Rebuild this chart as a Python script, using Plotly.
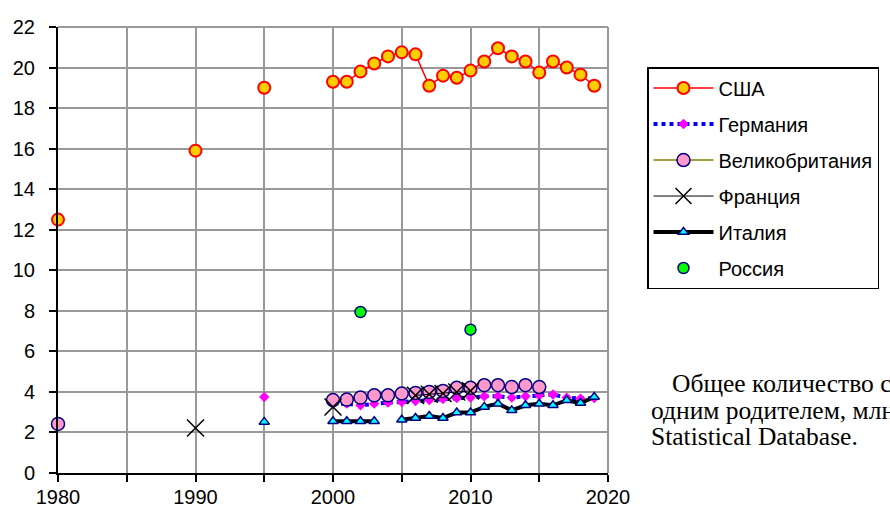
import plotly.graph_objects as go

# ---------------- data ----------------
usa_years = [1980, 1990, 1995, 2000, 2001, 2002, 2003, 2004, 2005, 2006, 2007, 2008, 2009,
             2010, 2011, 2012, 2013, 2014, 2015, 2016, 2017, 2018, 2019]
usa_vals = [12.5, 15.9, 19.0, 19.3, 19.3, 19.8, 20.2, 20.55, 20.75, 20.65, 19.1, 19.6, 19.5,
            19.85, 20.3, 20.95, 20.55, 20.3, 19.75, 20.3, 20.0, 19.65, 19.1]

ger_years = [1995, 2000, 2001, 2002, 2003, 2004, 2005, 2006, 2007, 2008, 2009, 2010,
             2011, 2012, 2013, 2014, 2015, 2016, 2017, 2018, 2019]
ger_vals = [3.75, 3.4, 3.42, 3.34, 3.42, 3.47, 3.5, 3.55, 3.6, 3.65, 3.7, 3.72,
            3.78, 3.78, 3.72, 3.78, 3.83, 3.87, 3.72, 3.67, 3.7]

uk_years = [1980, 2000, 2001, 2002, 2003, 2004, 2005, 2006, 2007, 2008, 2009, 2010,
            2011, 2012, 2013, 2014, 2015]
uk_vals = [2.42, 3.6, 3.62, 3.72, 3.83, 3.83, 3.92, 3.95, 4.0, 4.05, 4.2, 4.2,
           4.33, 4.33, 4.24, 4.33, 4.24]

fra_years = [1990, 2000, 2006, 2007, 2008, 2009, 2010]
fra_vals = [2.22, 3.26, 3.83, 3.88, 3.92, 4.0, 4.05]

ita_years = [1995, 2000, 2001, 2002, 2003, 2005, 2006, 2007, 2008, 2009, 2010,
             2011, 2012, 2013, 2014, 2015, 2016, 2017, 2018, 2019]
ita_vals = [2.52, 2.55, 2.55, 2.55, 2.55, 2.63, 2.71, 2.81, 2.71, 2.98, 2.98,
            3.26, 3.42, 3.09, 3.34, 3.42, 3.34, 3.59, 3.45, 3.75]

rus_years = [2002, 2010]
rus_vals = [7.94, 7.07]

x_ticks = [1980, 1990, 2000, 2010, 2020]
y_ticks = [0, 2, 4, 6, 8, 10, 12, 14, 16, 18, 20, 22]

note_lines = ["Общее количество семей",
              "одним родителем, млн.",
              "Statistical Database."]


def with_gaps(years, vals):
    """Insert None between non-consecutive years so lines break."""
    xs, ys = [], []
    for i, (yr, v) in enumerate(zip(years, vals)):
        if i > 0 and yr - years[i - 1] > 1:
            xs.append(years[i - 1] + 1)
            ys.append(None)
        xs.append(yr)
        ys.append(v)
    return xs, ys


fig = go.Figure()

series = [
    ("США", usa_years, usa_vals,
     dict(color="#FF0000", width=1.5),
     dict(symbol="circle", size=12, color="#FFCC00", line=dict(color="#FF0000", width=2))),
    ("Германия", ger_years, ger_vals,
     dict(color="#0000FF", width=4, dash="dot"),
     dict(symbol="diamond", size=8, color="#FF00FF", line=dict(width=0))),
    ("Великобритания", uk_years, uk_vals,
     dict(color="#808000", width=1.5),
     dict(symbol="circle", size=13, color="#FF99CC", line=dict(color="#000080", width=1.5))),
    ("Франция", fra_years, fra_vals,
     dict(color="#000000", width=1),
     dict(symbol="x-thin", size=17, color="#000000", line=dict(color="#000000", width=1.5))),
    ("Италия", ita_years, ita_vals,
     dict(color="#000000", width=4),
     dict(symbol="triangle-up", size=9, color="#00FFFF", line=dict(color="#000080", width=1.5))),
]

for name, yrs, vals, ln, mk in series:
    xs, ys = with_gaps(yrs, vals)
    fig.add_trace(go.Scatter(x=xs, y=ys, name=name, mode="lines+markers",
                             line=ln, marker=mk, connectgaps=False, cliponaxis=False,
                             legendgroup=name))

fig.add_trace(go.Scatter(x=rus_years, y=rus_vals, name="Россия", mode="markers",
                         marker=dict(symbol="circle", size=11, color="#00FF00",
                                     line=dict(color="#000080", width=1.5)),
                         cliponaxis=False, legendgroup="Россия"))

axis_font = dict(family="Liberation Sans, Arial", size=20, color="#000000")

fig.update_xaxes(range=[1980, 2020], tickvals=x_ticks, ticks="outside", ticklen=7,
                 tickcolor="#000000", tickwidth=1.5, automargin=False,
                 ticklabelstandoff=-2,
                 showline=True, linecolor="#000000", linewidth=2,
                 showgrid=True, gridcolor="#999999", gridwidth=1.5,
                 minor=dict(dtick=5, tick0=1980, showgrid=True, gridcolor="#999999",
                            gridwidth=1.5, ticks="outside", ticklen=7, tickcolor="#000000"),
                 tickfont=axis_font, zeroline=False, mirror=False)
fig.update_yaxes(range=[0, 22], tickvals=y_ticks, ticks="outside", ticklen=7,
                 tickcolor="#000000", tickwidth=1.5, automargin=False,
                 ticklabelstandoff=10,
                 showline=True, linecolor="#000000", linewidth=2,
                 showgrid=True, gridcolor="#999999", gridwidth=1.5,
                 tickfont=axis_font, zeroline=False)

# right and top border (gray like gridlines)
fig.add_shape(type="line", xref="paper", yref="paper", x0=1, x1=1, y0=0, y1=1,
              line=dict(color="#999999", width=2))
fig.add_shape(type="line", xref="paper", yref="paper", x0=0, x1=1, y0=1, y1=1,
              line=dict(color="#999999", width=2))

note_y = [383, 410, 436]
note_x = [671, 650, 650]
for txt, px, py in zip(note_lines, note_x, note_y):
    fig.add_annotation(text=txt, xref="paper", yref="paper",
                       x=(px - 58) / 551, y=(472.7 - py) / 445.7,
                       xanchor="left", yanchor="middle", showarrow=False,
                       font=dict(family="Liberation Serif, Times New Roman", size=25.5,
                                 color="#000000"))

fig.update_layout(
    width=890, height=507,
    margin=dict(l=58, r=281, t=27, b=34.3),
    paper_bgcolor="#FFFFFF", plot_bgcolor="#FFFFFF",
    showlegend=True,
    legend=dict(x=(647 - 58) / 551, y=(472.7 - 67) / 445.7, xanchor="left", yanchor="top",
                bordercolor="#000000", borderwidth=1.5, bgcolor="#FFFFFF",
                font=dict(family="Liberation Sans, Arial", size=20, color="#000000"),
                itemwidth=60, traceorder="grouped", tracegroupgap=7),
)

fig.write_html("out.html", config={"displayModeBar": False},
               post_script="document.body.style.margin='0';document.body.style.overflow='hidden';")
